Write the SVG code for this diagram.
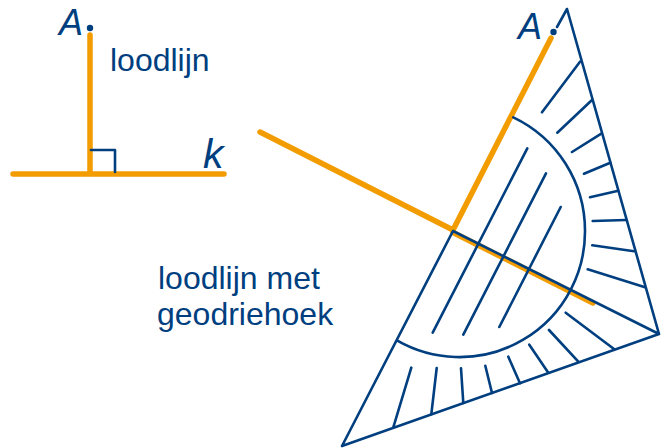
<svg xmlns="http://www.w3.org/2000/svg" width="668" height="448" viewBox="0 0 668 448">
<style>
.o{fill:none;stroke:#f39c00;stroke-width:5.500;stroke-linecap:round}
.b{fill:none;stroke:#003f7f;stroke-width:2.600;stroke-linecap:round;stroke-linejoin:round}
.t{font-family:"Liberation Sans",Arial,sans-serif;font-size:32px;fill:#003f7f}
.i{font-family:"Liberation Sans",Arial,sans-serif;font-style:italic;font-size:36px;fill:#003f7f}
.d{fill:#003f7f}
</style>
<rect width="668" height="448" fill="#fff"/>
<g id="connectors">
<path class="o" d="M90 35V173M13 174H224"/>
<path class="b" d="M91 150H115V172"/>
<path class="o" d="M260 132L453 230L551 38"/>
<path class="o" d="M453 232.500L593 303"/>
</g>
<g id="geodriehoek">
<path class="b" d="M557 27L567 9L659 334L342 446L453 231L659 334"/>
<path class="b" d="M513.300 117.300A125.600 125.600 0 0 1 585 231A125.600 125.600 0 0 1 397.300 340.700"/>
<path class="b" d="M580 61.700L542 112.300M592 100L557.300 132.700M601.300 133.700L572 152M610.300 162.700L584 173.700M618.300 190.700L590 197.300M626 220L592.700 221M634 251.300L592.300 245.300M645 287.300L587.700 269.300M614 349L565.700 312.700M578.300 361.700L549 330M548.300 372.700L529.300 344.700M520 383.300L508.300 356.700M492 393L485.300 365.700M463.300 403L461 368.300M431.300 414.300L436.700 368M393.300 427.300L411.300 367.700M432.700 332.700L527.300 148.300M463.300 334.700L546 173.300M499.300 327L560.700 207"/>
</g>
<g id="point-a-left"><circle class="d" cx="90" cy="28" r="3.200"/><text class="i" x="59" y="35">A</text></g>
<g id="point-a-right"><circle class="d" cx="553.500" cy="32" r="3.200"/><text class="i" x="518" y="39">A</text></g>
<g id="label-k"><text class="i" x="203" y="168" style="font-size:41px">k</text></g>
<g id="label-loodlijn"><text class="t" x="110" y="71">loodlijn</text></g>
<g id="label-met"><text class="t" x="158" y="289">loodlijn met</text><text class="t" x="157" y="325">geodriehoek</text></g>
</svg>
